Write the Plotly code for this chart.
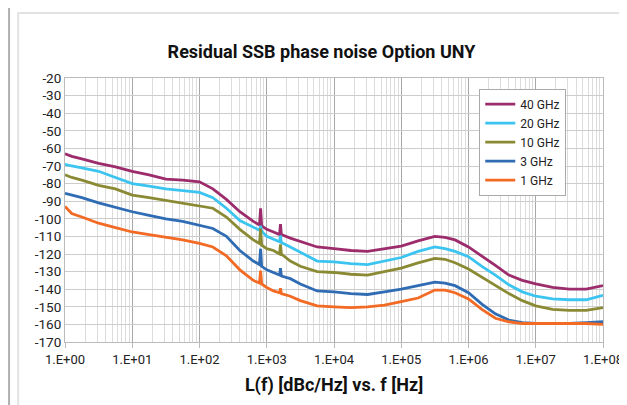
import plotly.graph_objects as go

freq_hz = [1, 1.26, 1.78, 3.16, 5.62, 10, 17.8, 31.6, 56.2, 100, 158, 251, 398, 631,
           780, 810, 840, 1000, 1260, 1550, 1600, 1650, 2240, 3160, 5620, 10000,
           17800, 31600, 56200, 100000, 178000, 316000, 447000, 631000, 1000000,
           1580000, 2510000, 3980000, 6310000, 10000000, 17800000, 31600000,
           56200000, 100000000]

noise_40ghz = [-63, -64.5, -66, -68.5, -70.5, -73, -75, -77.5, -78, -79, -83, -89, -96, -101.5,
               -103.5, -94, -104, -106, -107.5, -109, -103, -109, -111, -113, -116, -117,
               -118, -118.5, -117, -115.5, -112.5, -110, -110.5, -112, -116, -121, -126.5,
               -132, -135, -137, -139, -140, -140, -138]
noise_20ghz = [-69, -70, -71, -73, -76.5, -80, -81.5, -83, -84, -85, -88, -94, -101, -105,
               -106.5, -104, -107, -110, -111.5, -113, -109.5, -113.5, -116, -119, -124, -124.5,
               -125.5, -126, -124, -122, -118.5, -116, -117, -118.5, -121.5, -127, -132,
               -137.5, -141.5, -144, -145.5, -146, -146, -143.5]
noise_10ghz = [-75, -76.5, -78, -81, -83, -86.5, -88, -89.5, -91, -92.5, -94, -99, -106, -112,
               -114, -105.5, -115, -117, -118, -120, -114.5, -120, -124, -127, -130, -130.5,
               -131.5, -132, -130, -128, -125, -122.5, -123, -125, -128.5, -133, -138,
               -142.5, -146.5, -149.5, -151.5, -152, -152, -150.5]
noise_3ghz = [-85.5, -86.5, -88, -91, -93.5, -96, -98, -100, -101.5, -103.5, -105.5, -110, -118, -124,
              -126, -117, -127, -129, -130.5, -132, -128, -132.5, -134, -137, -141, -141.5,
              -142.5, -143, -141.5, -140, -138, -136, -136.5, -138, -142, -148.5, -154,
              -157.5, -159, -159.5, -159.5, -159.5, -159, -158.5]
noise_1ghz = [-93, -97, -99, -102.5, -105, -107.5, -109, -110.5, -112, -114, -116, -121, -129, -135,
              -136.5, -129.5, -137, -139, -141, -142, -139.5, -142.5, -144, -146.5, -149.5, -150,
              -150.5, -150, -149, -147, -145, -140.5, -140.5, -142, -145.5, -151.5, -156.5,
              -158.5, -159.5, -159.5, -159.5, -159.5, -159.5, -160]

series_names = ["40 GHz", "20 GHz", "10 GHz", "3 GHz", "1 GHz"]
series_values = [noise_40ghz, noise_20ghz, noise_10ghz, noise_3ghz, noise_1ghz]
series_colors = ["#9c2c6c", "#3cc4f0", "#8b8a34", "#2f6cb3", "#f26a24"]

x_tickvals = [1, 10, 100, 1000, 10000, 100000, 1000000, 10000000, 100000000]
x_ticktext = ["1.E+00", "1.E+01", "1.E+02", "1.E+03", "1.E+04", "1.E+05", "1.E+06", "1.E+07", "1.E+08"]
y_tickvals = list(range(-20, -171, -10))
y_ticktext = [str(v) for v in y_tickvals]

font_main = "Roboto, sans-serif"

fig = go.Figure()
for name, vals, col in zip(series_names, series_values, series_colors):
    fig.add_trace(go.Scatter(x=freq_hz, y=vals, mode="lines", name=name,
                             line=dict(color=col, width=2.8)))

fig.update_layout(
    width=627, height=405,
    margin=dict(l=57, r=30, t=70, b=71),
    paper_bgcolor="white", plot_bgcolor="white",
    title=dict(text="<b>Residual SSB phase noise Option UNY</b>", x=0.5, xanchor="center",
               y=0.893, yanchor="middle", font=dict(family=font_main, size=18, color="#111")),
    showlegend=True,
    legend=dict(x=0.77, y=0.96, xanchor="left", yanchor="top", bgcolor="white",
                bordercolor="#aaaaaa", borderwidth=1,
                font=dict(family=font_main, size=12, color="#222"),
                tracegroupgap=0, itemwidth=30),
    xaxis=dict(type="log", range=[0, 8], tickvals=x_tickvals, ticktext=x_ticktext,
               showgrid=True, gridcolor="#a8a8a8", gridwidth=1,
               minor=dict(showgrid=True, gridcolor="#dcdcdc", gridwidth=1, dtick="D1"),
               ticks="outside", ticklen=5, tickcolor="#bbbbbb",
               showline=True, linecolor="#bbbbbb", mirror=True,
               tickfont=dict(family=font_main, size=13, color="#222"),
               title=dict(text="<b>L(f) [dBc/Hz] vs. f [Hz]</b>",
                          font=dict(family=font_main, size=18, color="#111"),
                          standoff=12),
               zeroline=False),
    yaxis=dict(range=[-170, -20], tickvals=y_tickvals, ticktext=y_ticktext,
               showgrid=True, gridcolor="#cccccc", gridwidth=1,
               showline=True, linecolor="#bbbbbb", mirror=True,
               tickfont=dict(family=font_main, size=13.5, color="#222"), ticks="", zeroline=False),
    shapes=[dict(type="rect", xref="paper", yref="paper", x0=-0.087, x1=1.033, y0=-0.3, y1=1.246,
                 line=dict(color="#e2e2e2", width=2), fillcolor="rgba(0,0,0,0)", layer="below"),
            dict(type="line", xref="paper", yref="paper", x0=-0.104, x1=-0.104, y0=-0.3, y1=1.3,
                 line=dict(color="#b0b0b0", width=2), layer="below")],
)

fig.write_html("out.html")
